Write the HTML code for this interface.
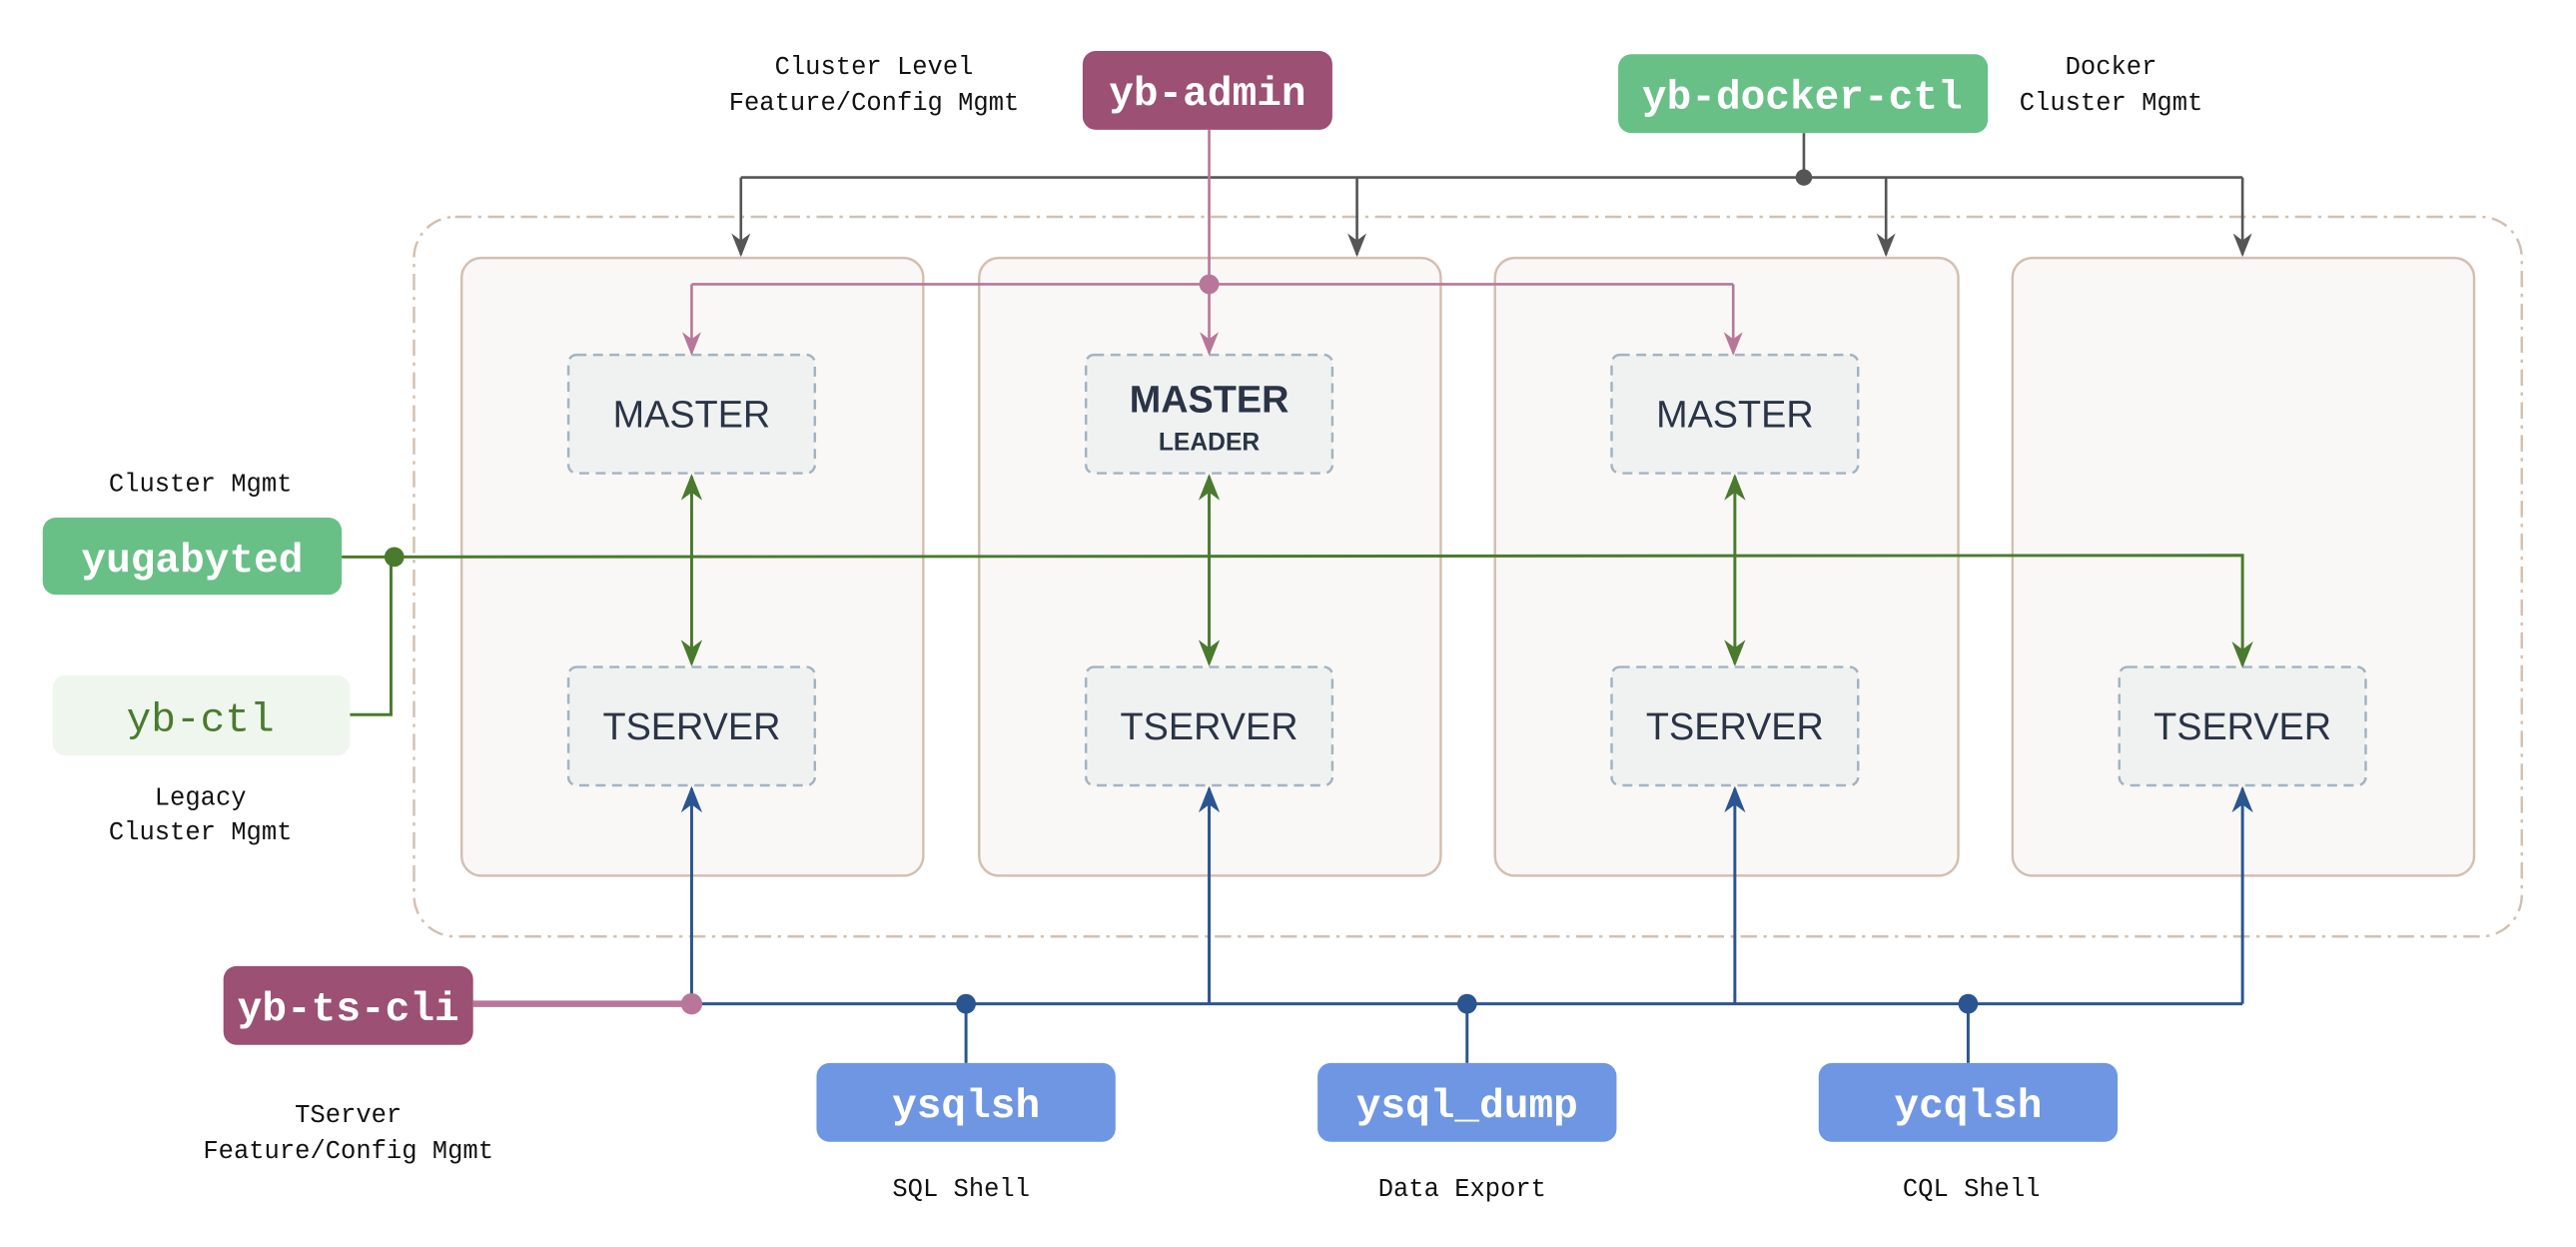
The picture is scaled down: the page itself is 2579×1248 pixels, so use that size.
<!DOCTYPE html>
<html><head><meta charset="utf-8"><style>
html,body{margin:0;padding:0;background:#fff;}
svg{display:block}
.lbl{font-family:"Liberation Mono",monospace;font-size:15.5px;fill:#111;text-anchor:middle}
.btn{font-family:"Liberation Mono",monospace;font-size:25px;font-weight:bold;fill:#fff;text-anchor:middle}
.nd{font-family:"Liberation Sans",sans-serif;font-size:23px;fill:#2a3446;text-anchor:middle}
</style></head><body>
<svg width="2579" height="1248" viewBox="0 0 1568 759" preserveAspectRatio="none" xmlns="http://www.w3.org/2000/svg">
<defs>
<marker id="ag" viewBox="0 0 10 10" refX="9" refY="5" markerWidth="9" markerHeight="9" orient="auto-start-reverse"><path d="M0,1 L10,5 L0,9 L3,5 z" fill="#555"/></marker>
<marker id="ap" viewBox="0 0 10 10" refX="9" refY="5" markerWidth="9" markerHeight="9" orient="auto-start-reverse"><path d="M0,1 L10,5 L0,9 L3,5 z" fill="#b8779a"/></marker>
<marker id="agr" viewBox="0 0 10 10" refX="9" refY="5" markerWidth="9" markerHeight="9" orient="auto-start-reverse"><path d="M0,1 L10,5 L0,9 L3,5 z" fill="#4a7a2e"/></marker>
<marker id="ab" viewBox="0 0 10 10" refX="9" refY="5" markerWidth="9" markerHeight="9" orient="auto-start-reverse"><path d="M0,1 L10,5 L0,9 L3,5 z" fill="#2a5590"/></marker>
</defs>
<rect x="252" y="132" width="1283" height="438" rx="25" fill="none" stroke="#d4c0b0" stroke-width="1.5" stroke-dasharray="10,4,2,4"/>
<g fill="#f9f8f6" stroke="#d4bfb0" stroke-width="1.5">
<rect x="281" y="157" width="281" height="376" rx="12"/>
<rect x="596" y="157" width="281" height="376" rx="12"/>
<rect x="910" y="157" width="282" height="376" rx="12"/>
<rect x="1225" y="157" width="281" height="376" rx="12"/>
</g>
<g fill="#f0f2f2" stroke="#a3b3c2" stroke-width="1.5" stroke-dasharray="6,4">
<rect x="346" y="216" width="150" height="72" rx="5"/>
<rect x="661" y="216" width="150" height="72" rx="5"/>
<rect x="981" y="216" width="150" height="72" rx="5"/>
<rect x="346" y="406" width="150" height="72" rx="5"/>
<rect x="661" y="406" width="150" height="72" rx="5"/>
<rect x="981" y="406" width="150" height="72" rx="5"/>
<rect x="1290" y="406" width="150" height="72" rx="5"/>
</g>
<text class="nd" x="421" y="260">MASTER</text>
<text class="nd" x="736" y="251" style="font-weight:bold">MASTER</text>
<text class="nd" x="736" y="274" style="font-size:15px;font-weight:bold">LEADER</text>
<text class="nd" x="1056" y="260">MASTER</text>
<text class="nd" x="421" y="450">TSERVER</text>
<text class="nd" x="736" y="450">TSERVER</text>
<text class="nd" x="1056" y="450">TSERVER</text>
<text class="nd" x="1365" y="450">TSERVER</text>
<g stroke="#555" stroke-width="1.6" fill="none">
<path d="M1098 81 V108"/>
<path d="M451 108 H1365"/>
<path d="M451 108 V155" marker-end="url(#ag)"/>
<path d="M826 108 V155" marker-end="url(#ag)"/>
<path d="M1148 108 V155" marker-end="url(#ag)"/>
<path d="M1365 108 V155" marker-end="url(#ag)"/>
</g>
<circle cx="1098" cy="108" r="5" fill="#555"/>
<g stroke="#b8779a" stroke-width="1.6" fill="none">
<path d="M736 79 V173"/>
<path d="M421 173 H1055"/>
<path d="M421 173 V215" marker-end="url(#ap)"/>
<path d="M736 173 V215" marker-end="url(#ap)"/>
<path d="M1055 173 V215" marker-end="url(#ap)"/>
</g>
<circle cx="736" cy="173" r="6" fill="#b8779a"/>
<g stroke="#4a7a2e" stroke-width="1.8" fill="none">
<path d="M208 339 L1365 338 V405" marker-end="url(#agr)"/>
<path d="M213 435 H238 V339"/>
<path d="M421 290 V404" marker-start="url(#agr)" marker-end="url(#agr)"/>
<path d="M736 290 V404" marker-start="url(#agr)" marker-end="url(#agr)"/>
<path d="M1056 290 V404" marker-start="url(#agr)" marker-end="url(#agr)"/>
</g>
<circle cx="240" cy="339" r="6" fill="#4a7a2e"/>
<g stroke="#2a5590" stroke-width="1.8" fill="none">
<path d="M421 611 H1365"/>
<path d="M421 611 V480" marker-end="url(#ab)"/>
<path d="M736 611 V480" marker-end="url(#ab)"/>
<path d="M1056 611 V480" marker-end="url(#ab)"/>
<path d="M1365 611 V480" marker-end="url(#ab)"/>
<path d="M588 611 V647"/>
<path d="M893 611 V647"/>
<path d="M1198 611 V647"/>
</g>
<circle cx="588" cy="611" r="6" fill="#2a5590"/>
<circle cx="893" cy="611" r="6" fill="#2a5590"/>
<circle cx="1198" cy="611" r="6" fill="#2a5590"/>
<path d="M288 611 H421" stroke="#b8779a" stroke-width="4"/>
<circle cx="421" cy="611" r="6.5" fill="#b8779a"/>
<rect x="659" y="31" width="152" height="48" rx="8" fill="#9b5074"/>
<text class="btn" x="735" y="64">yb-admin</text>
<rect x="985" y="33" width="225" height="48" rx="8" fill="#68c086"/>
<text class="btn" x="1097" y="66">yb-docker-ctl</text>
<rect x="26" y="315" width="182" height="47" rx="8" fill="#68c086"/>
<text class="btn" x="117" y="348">yugabyted</text>
<rect x="32" y="411" width="181" height="49" rx="8" fill="#eff6ee"/>
<text class="btn" x="122" y="445" style="fill:#4a7a2e;font-weight:normal">yb-ctl</text>
<rect x="136" y="588" width="152" height="48" rx="8" fill="#9b5074"/>
<text class="btn" x="212" y="621">yb-ts-cli</text>
<rect x="497" y="647" width="182" height="48" rx="8" fill="#6e96e3"/>
<text class="btn" x="588" y="680">ysqlsh</text>
<rect x="802" y="647" width="182" height="48" rx="8" fill="#6e96e3"/>
<text class="btn" x="893" y="680">ysql_dump</text>
<rect x="1107" y="647" width="182" height="48" rx="8" fill="#6e96e3"/>
<text class="btn" x="1198" y="680">ycqlsh</text>
<text class="lbl" x="532" y="45">Cluster Level</text>
<text class="lbl" x="532" y="67">Feature/Config Mgmt</text>
<text class="lbl" x="1285" y="45">Docker</text>
<text class="lbl" x="1285" y="67">Cluster Mgmt</text>
<text class="lbl" x="122" y="299">Cluster Mgmt</text>
<text class="lbl" x="122" y="490">Legacy</text>
<text class="lbl" x="122" y="511">Cluster Mgmt</text>
<text class="lbl" x="212" y="683">TServer</text>
<text class="lbl" x="212" y="705">Feature/Config Mgmt</text>
<text class="lbl" x="585" y="728">SQL Shell</text>
<text class="lbl" x="890" y="728">Data Export</text>
<text class="lbl" x="1200" y="728">CQL Shell</text>
</svg>
</body></html>
